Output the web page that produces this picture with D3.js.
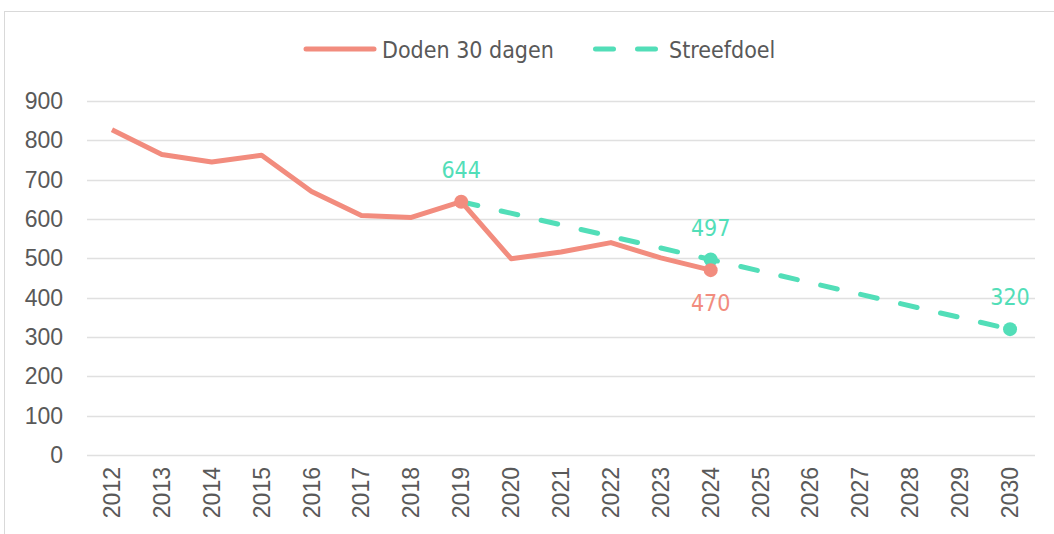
<!DOCTYPE html>
<html>
<head>
<meta charset="utf-8">
<script src="https://cdn.jsdelivr.net/npm/d3@7"></script>
<style>
  body { margin: 0; background: #fff; }
  text { font-family: "DejaVu Sans Condensed", "DejaVu Sans", sans-serif; fill: #595959; }
</style>
</head>
<body>
<svg id="chart" width="1054" height="534"></svg>
<script>
// jaren op de x-as
const years = d3.range(2012, 2031).map(String);
// verkeersdoden binnen 30 dagen
const dodenYears = ["2012","2013","2014","2015","2016","2017","2018","2019","2020","2021","2022","2023","2024"];
const dodenValues = [827, 764, 745, 762, 670, 609, 604, 644, 499, 516, 540, 501, 470];
// streefdoel
const doelYears = ["2019", "2024", "2030"];
const doelValues = [644, 497, 320];
const yTicks = [0, 100, 200, 300, 400, 500, 600, 700, 800, 900];

const red = "#F28C7E";
const teal = "#52DEB8";
const fontSize = 23;

const svg = d3.select("#chart");

// kader rond de grafiek
svg.append("rect")
	.attr("x", 4.5).attr("y", 11.5)
	.attr("width", 1060).attr("height", 540)
	.attr("fill", "none")
	.attr("stroke", "#D9D9D9");

const x = d3.scaleBand().domain(years).range([87, 1035]);
const y = d3.scaleLinear().domain([0, 900]).range([455, 101]);
const cx = d => x(d) + x.bandwidth() / 2;

// rasterlijnen
svg.append("g")
	.selectAll("line")
	.data(yTicks)
	.join("line")
	.attr("x1", 87).attr("x2", 1035)
	.attr("y1", d => Math.round(y(d)) + 0.5)
	.attr("y2", d => Math.round(y(d)) + 0.5)
	.attr("stroke", "#E0E0E0")
	.attr("stroke-width", 1.5);

// y-as
const yAxis = svg.append("g")
	.attr("transform", "translate(63,0)")
	.call(d3.axisLeft(y).tickValues(yTicks).tickSize(0).tickPadding(0));
yAxis.select(".domain").remove();
yAxis.selectAll("text")
	.attr("font-size", fontSize)
	.style("font-family", "inherit")
	.attr("fill", "#595959");

// x-as met gedraaide labels
const xAxis = svg.append("g")
	.attr("transform", "translate(0,455)")
	.call(d3.axisBottom(x).tickSize(0).tickPadding(0));
xAxis.select(".domain").remove();
xAxis.selectAll("text")
	.attr("font-size", fontSize)
	.style("font-family", "inherit")
	.attr("fill", "#595959")
	.attr("text-anchor", "end")
	.attr("dy", null)
	.attr("transform", "translate(0,12) rotate(-90)")
	.attr("x", 0).attr("y", 0)
	.attr("dominant-baseline", "central");

const line = d3.line().x(d => cx(d[0])).y(d => y(d[1]));

const doden = dodenYears.map((d, i) => [d, dodenValues[i]]);
const doel = doelYears.map((d, i) => [d, doelValues[i]]);

// streefdoel lijn (gestreept)
svg.append("path")
	.attr("d", line(doel))
	.attr("fill", "none")
	.attr("stroke", teal)
	.attr("stroke-width", 5)
	.attr("stroke-linecap", "round")
	.attr("stroke-dasharray", "17 24");

// doden lijn
svg.append("path")
	.attr("d", line(doden))
	.attr("fill", "none")
	.attr("stroke", red)
	.attr("stroke-width", 5)
	.attr("stroke-linejoin", "round");

// markers
svg.append("g").selectAll("circle")
	.data(doel.slice(1))
	.join("circle")
	.attr("cx", d => cx(d[0])).attr("cy", d => y(d[1]))
	.attr("r", 7).attr("fill", teal);

const dodenMarked = doden.filter(d => d[0] === "2019" || d[0] === "2024");
svg.append("g").selectAll("circle")
	.data(dodenMarked)
	.join("circle")
	.attr("cx", d => cx(d[0])).attr("cy", d => y(d[1]))
	.attr("r", 7).attr("fill", red);

// gegevenslabels
svg.append("g").selectAll("text")
	.data(doel)
	.join("text")
	.attr("x", d => cx(d[0]))
	.attr("y", d => y(d[1]) - 24)
	.attr("text-anchor", "middle")
	.attr("font-size", fontSize)
	.style("fill", teal)
	.text(d => d[1]);

svg.append("text")
	.attr("x", cx("2024"))
	.attr("y", y(470) + 41)
	.attr("text-anchor", "middle")
	.attr("font-size", fontSize)
	.style("fill", red)
	.text(470);

// legenda
const legend = svg.append("g");
legend.append("line")
	.attr("x1", 306).attr("x2", 374).attr("y1", 49).attr("y2", 49)
	.attr("stroke", red).attr("stroke-width", 5).attr("stroke-linecap", "round");
legend.append("text")
	.attr("x", 382).attr("y", 57.5)
	.attr("font-size", fontSize)
	.text("Doden 30 dagen");
legend.append("line")
	.attr("x1", 595.5).attr("x2", 656).attr("y1", 49).attr("y2", 49)
	.attr("stroke", teal).attr("stroke-width", 5).attr("stroke-linecap", "round")
	.attr("stroke-dasharray", "18 24");
legend.append("text")
	.attr("x", 669).attr("y", 57.5)
	.attr("font-size", fontSize)
	.text("Streefdoel");
</script>
</body>
</html>
